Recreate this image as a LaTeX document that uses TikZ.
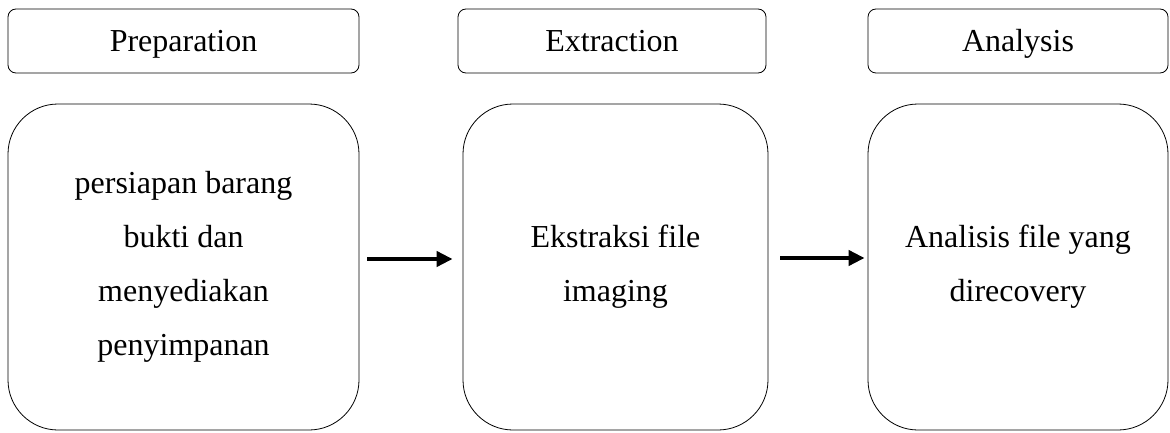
\documentclass[tikz,border=0pt]{standalone}
\usepackage{fontspec}
\setmainfont{Liberation Serif}
\usetikzlibrary{arrows.meta}

\tikzset{
  StageStyle/.style = {draw, line width=0.8pt, rounded corners=8pt, inner sep=0pt,
    minimum height=64pt, text height=25pt, text depth=4pt,
    font=\fontsize{32}{54}\selectfont},
  StepStyle/.style = {draw, line width=0.8pt, rounded corners=50pt, inner sep=0pt,
    minimum height=326pt, align=center, font=\fontsize{32}{54}\selectfont},
  FlowStyle/.style = {line width=4pt, -{Triangle[length=16pt,width=15pt]}}
}

\begin{document}
\begin{tikzpicture}[x=1pt,y=1pt]
    \useasboundingbox (0,0) rectangle (1170,432);

    % Stages
    \node[StageStyle, minimum width=351pt] (prep) at (183.5,391) {Preparation};
    \node[StageStyle, minimum width=308pt] (extr) at (612,391) {Extraction};
    \node[StageStyle, minimum width=300pt] (anal) at (1018,391) {Analysis};

    % Steps
    \node[StepStyle, minimum width=351pt] (prepStep) at (183.5,165)
        {persiapan barang\\bukti dan\\menyediakan\\penyimpanan};
    \node[StepStyle, minimum width=305pt] (extrStep) at (615.5,165)
        {Ekstraksi file\\imaging};
    \node[StepStyle, minimum width=300pt] (analStep) at (1018,165)
        {Analisis file yang\\direcovery};

    % Edges
    \draw[FlowStyle, shorten <=8pt, shorten >=10pt]
        ([yshift=8pt]prepStep.east) -- ([yshift=8pt]extrStep.west);
    \draw[FlowStyle, shorten <=12pt, shorten >=3pt]
        ([yshift=9pt]extrStep.east) -- ([yshift=9pt]analStep.west);
\end{tikzpicture}
\end{document}
